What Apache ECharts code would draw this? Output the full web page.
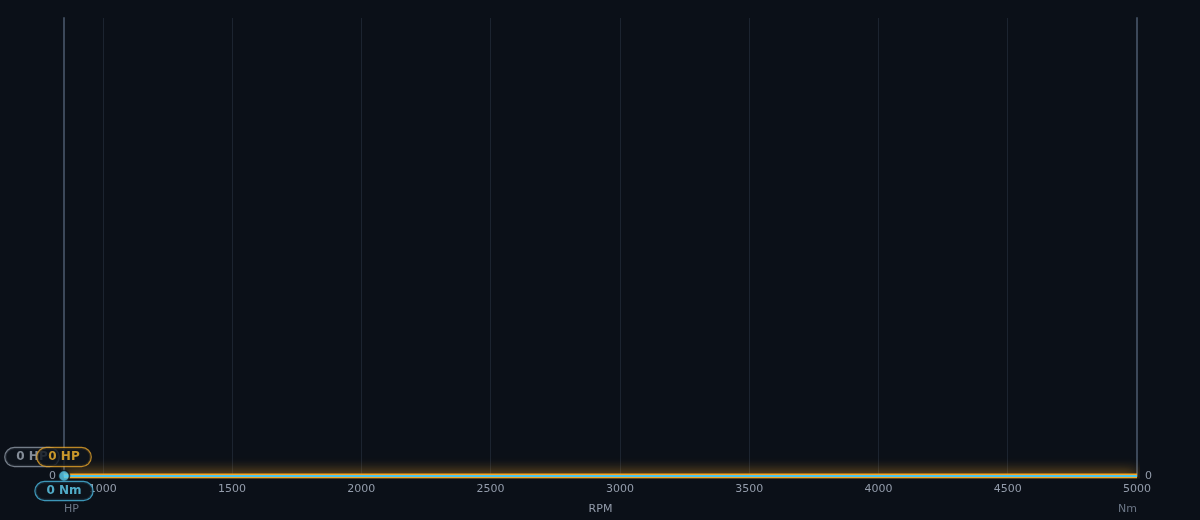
<!DOCTYPE html>
<html lang="en">

<head>
    <meta charset="UTF-8">
    <title>Dyno</title>
    <script src="https://cdn.jsdelivr.net/npm/echarts@6/dist/echarts.min.js"></script>
    <style>
        * {
            margin: 0;
            padding: 0;
        }

        body {
            background: #0b1018;
        }

        #main {
            width: 1200px;
            height: 520px;
        }
    </style>
</head>

<body>
    <div id="main"></div>
    <script>
        // run data (engine not loaded yet, everything at zero)
        const rpm = [850, 1000, 1250, 1500, 1750, 2000, 2250, 2500, 2750, 3000, 3250, 3500, 3750, 4000, 4250, 4500, 4750, 5000];
        const hp = [0, 0, 0, 0, 0, 0, 0, 0, 0, 0, 0, 0, 0, 0, 0, 0, 0, 0];
        const nm = [0, 0, 0, 0, 0, 0, 0, 0, 0, 0, 0, 0, 0, 0, 0, 0, 0, 0];
        // cursor / peak readouts
        const cursorRpm = 850;
        const peakHp = 0;
        const peakNm = 0;
        const prevPeakHp = 0;

        const bg = '#0b1018';
        const orange = '#f5a623';
        const cyan = '#4cc6ec';
        const labelColor = '#939cab';
        const nameColor = '#6b7686';

        var chartDom = document.getElementById('main');
        var myChart = echarts.init(chartDom);

        function pill(text, color, border, offset) {
            return {
                show: true,
                position: 'inside',
                offset: offset,
                formatter: text,
                color: color,
                fontSize: 12,
                fontWeight: 'bold',
                fontFamily: 'DejaVu Sans',
                lineHeight: 12,
                backgroundColor: '#0e141d',
                borderColor: border,
                borderWidth: 1.2,
                borderRadius: 9,
                padding: [3, 11, 3, 11]
            };
        }

        const option = {
            backgroundColor: bg,
            animation: false,
            textStyle: { fontFamily: 'DejaVu Sans' },
            grid: { left: 64, right: 63, top: 18, bottom: 44, containLabel: false },
            xAxis: {
                type: 'value',
                min: 850,
                max: 5000,
                splitNumber: 8,
                name: 'RPM',
                nameLocation: 'middle',
                nameGap: 28,
                nameTextStyle: { color: labelColor, fontSize: 11 },
                axisLine: { show: false },
                axisTick: { show: false },
                axisLabel: {
                    color: labelColor, fontSize: 11, margin: 8, showMinLabel: false,
                    formatter: function (v) { return String(v); }
                },
                splitLine: { show: true, lineStyle: { color: '#1c2430', width: 1 } }
            },
            yAxis: [{
                type: 'value',
                min: 0,
                max: 1,
                position: 'left',
                name: 'HP',
                nameLocation: 'start',
                nameGap: 28,
                nameTextStyle: { color: nameColor, fontSize: 11, align: 'left' },
                axisLine: { show: true, lineStyle: { color: '#3c4859', width: 2 } },
                axisTick: { show: false },
                splitLine: { show: false },
                axisLabel: {
                    color: labelColor, fontSize: 11, margin: 8,
                    formatter: function (v) { return v === 0 ? '0' : ''; }
                }
            }, {
                type: 'value',
                min: 0,
                max: 1,
                position: 'right',
                name: 'Nm',
                nameLocation: 'start',
                nameGap: 28,
                nameTextStyle: { color: nameColor, fontSize: 11, align: 'right' },
                axisLine: { show: true, lineStyle: { color: '#3c4859', width: 2 } },
                axisTick: { show: false },
                splitLine: { show: false },
                axisLabel: {
                    color: labelColor, fontSize: 11, margin: 8,
                    formatter: function (v) { return v === 0 ? '0' : ''; }
                }
            }],
            series: [{
                name: 'HP',
                type: 'line',
                yAxisIndex: 0,
                showSymbol: false,
                smooth: true,
                data: rpm.map((r, i) => [r, hp[i]]),
                lineStyle: { color: orange, width: 5, shadowBlur: 14, shadowColor: 'rgba(245,166,35,1)' },
                z: 3
            }, {
                name: 'Nm',
                type: 'line',
                yAxisIndex: 1,
                showSymbol: false,
                smooth: true,
                data: rpm.map((r, i) => [r, nm[i]]),
                lineStyle: { color: cyan, width: 2 },
                z: 4
            }, {
                name: 'prev',
                type: 'scatter',
                yAxisIndex: 0,
                symbolSize: 0,
                data: [[cursorRpm, prevPeakHp]],
                label: pill(prevPeakHp + ' HP', '#a3acb8', '#8f98a5', [-32, -19]),
                z: 8
            }, {
                name: 'cursor',
                type: 'scatter',
                yAxisIndex: 1,
                symbolSize: 11,
                data: [[cursorRpm, peakNm]],
                itemStyle: { color: '#56cdf0', borderColor: bg, borderWidth: 1.5 },
                z: 9
            }, {
                name: 'peakHp',
                type: 'scatter',
                yAxisIndex: 0,
                symbolSize: 0,
                data: [[cursorRpm, peakHp]],
                label: pill(peakHp + ' HP', '#f7b92f', '#e6a42a', [0, -19]),
                z: 10
            }, {
                name: 'peakNm',
                type: 'scatter',
                yAxisIndex: 1,
                symbolSize: 0,
                data: [[cursorRpm, peakNm]],
                label: pill(peakNm + ' Nm', '#62d2f3', '#4ab8e0', [0, 15]),
                z: 10
            }]
        };
        myChart.setOption(option);
    </script>
</body>

</html>
